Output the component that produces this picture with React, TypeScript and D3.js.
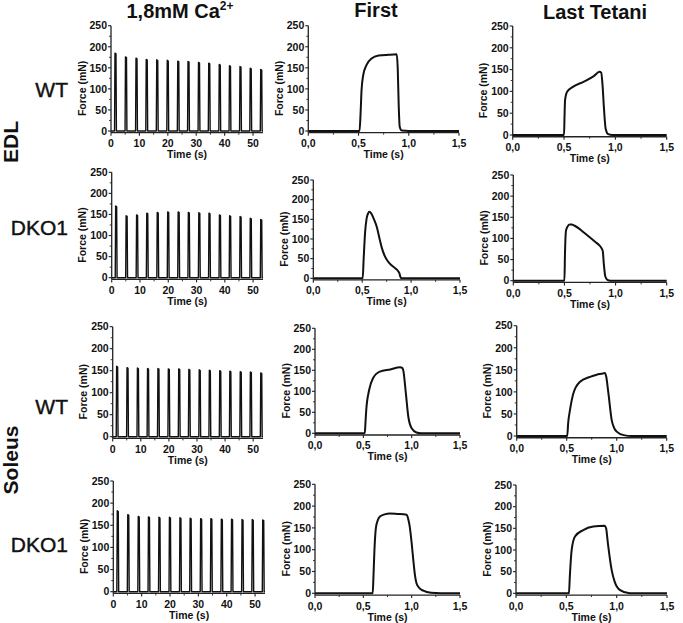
import React from "react";
import * as d3 from "d3";

// ---------------- data ----------------
const columnTitles = ["1,8mM Ca", "First", "Last Tetani"];
const titleSup = "2+";
const groupLabels = ["EDL", "Soleus"];
const rowLabels = ["WT", "DKO1", "WT", "DKO1"];
const yLabel = "Force (mN)";
const xLabel = "Time (s)";
const forceTicks = [0, 50, 100, 150, 200, 250];
const forceMinorTicks = [25, 75, 125, 175, 225];
const trainTimeTicks = [0, 10, 20, 30, 40, 50];
const trainMinorTicks = [5, 15, 25, 35, 45];
const tetanusTimeTicks = [0, 0.5, 1.0, 1.5];
const tetanusMinorTicks = [0.25, 0.75, 1.25];

// 1,8 mM Ca2+ trains: time of each tetanus (s) and its peak force (mN)
const spikeTimes = [1.4, 5.1, 8.8, 12.4, 16.1, 19.8, 23.5, 27.1, 30.8, 34.4, 38.1, 41.7, 45.4, 49.0, 52.7];
const edlWtTrain = [185, 176, 173, 170, 169, 168, 166, 165, 163, 161, 158, 155, 153, 149, 146];
const edlDkoTrain = [170, 147, 149, 153, 155, 156, 156, 155, 154, 153, 149, 147, 145, 141, 138];
const solWtTrain = [160, 157, 156, 155, 155, 154, 154, 153, 152, 151, 150, 149, 148, 147, 145];
const solDkoTrain = [183, 174, 170, 169, 168, 168, 167, 166, 165, 165, 164, 164, 163, 163, 162];

// single tetani: [time (s), force (mN)]
const edlWtFirst: [number, number][] = [
  [0, 0], [0.51, 0], [0.52, 40], [0.53, 97], [0.547, 133], [0.58, 157], [0.63, 172], [0.7, 179],
  [0.8, 181], [0.88, 182], [0.89, 150], [0.9, 60], [0.91, 10], [0.93, 1], [1.0, 0], [1.5, 0],
];
const edlWtLast: [number, number][] = [
  [0, 0], [0.5, 0], [0.505, 45], [0.51, 80], [0.53, 99], [0.59, 111], [0.69, 122], [0.79, 135],
  [0.845, 145], [0.862, 143], [0.874, 118], [0.89, 57], [0.905, 15], [0.93, 2], [0.97, 0], [1.5, 0],
];
const edlDkoFirst: [number, number][] = [
  [0, 0], [0.505, 0], [0.515, 50], [0.53, 118], [0.545, 152], [0.56, 165], [0.575, 169], [0.59, 166],
  [0.62, 150], [0.65, 130], [0.68, 98], [0.7, 78], [0.73, 57], [0.76, 44], [0.8, 33], [0.84, 25],
  [0.865, 19], [0.88, 13], [0.89, 4], [0.9, 0], [1.5, 0],
];
const edlDkoLast: [number, number][] = [
  [0, 0], [0.5, 0], [0.505, 60], [0.515, 118], [0.53, 128], [0.55, 133], [0.57, 133], [0.6, 130],
  [0.65, 122], [0.7, 112], [0.75, 102], [0.8, 92], [0.84, 84], [0.86, 78], [0.875, 70], [0.885, 40],
  [0.9, 10], [0.92, 2], [0.95, 0], [1.5, 0],
];
const solWtFirst: [number, number][] = [
  [0, 0], [0.515, 0], [0.522, 25], [0.53, 55], [0.56, 103], [0.6, 131], [0.67, 147], [0.78, 152],
  [0.88, 157], [0.9, 156], [0.913, 150], [0.94, 95], [0.965, 40], [1.0, 12], [1.05, 2], [1.1, 0], [1.5, 0],
];
const solWtLast: [number, number][] = [
  [0, 0], [0.505, 0], [0.515, 30], [0.533, 59], [0.567, 97], [0.633, 123], [0.733, 134], [0.8, 139],
  [0.867, 142], [0.88, 143], [0.895, 135], [0.917, 97], [0.95, 36], [0.975, 18], [1.0, 10], [1.07, 2],
  [1.15, 0], [1.5, 0],
];
const solDkoFirst: [number, number][] = [
  [0, 0], [0.597, 0], [0.605, 40], [0.615, 100], [0.63, 150], [0.65, 168], [0.672, 176], [0.72, 181],
  [0.776, 183], [0.85, 182], [0.948, 180], [0.965, 170], [0.98, 153], [1.0, 115], [1.017, 76],
  [1.035, 40], [1.05, 23], [1.08, 12], [1.12, 6], [1.2, 1], [1.3, 0], [1.5, 0],
];
const solDkoLast: [number, number][] = [
  [0, 0], [0.526, 0], [0.535, 40], [0.553, 100], [0.586, 131], [0.668, 146], [0.768, 154], [0.88, 156],
  [0.895, 150], [0.913, 115], [0.95, 54], [0.98, 27], [1.03, 8], [1.13, 0], [1.5, 0],
];

const trains = [edlWtTrain, edlDkoTrain, solWtTrain, solDkoTrain];
const firsts = [edlWtFirst, edlDkoFirst, solWtFirst, solDkoFirst];
const lasts = [edlWtLast, edlDkoLast, solWtLast, solDkoLast];

// ---------------- layout ----------------
type Box = { left: number; right: number; top: number; zero: number };
const W = 683;
const H = 623;
const FONT = "'Liberation Sans', Arial, Helvetica, sans-serif";
const Y_MIN = -4;
const TRAIN_MAX = 53.5;

const panelBoxes: Box[][] = [
  [
    { left: 111, right: 263, top: 25.7, zero: 131 },
    { left: 308.3, right: 459, top: 25.7, zero: 131 },
    { left: 512.7, right: 666.7, top: 26, zero: 135 },
  ],
  [
    { left: 111.7, right: 263, top: 172.3, zero: 277.7 },
    { left: 313.3, right: 460, top: 180, zero: 278.3 },
    { left: 513.3, right: 666.7, top: 175, zero: 280.7 },
  ],
  [
    { left: 112.7, right: 263, top: 326.7, zero: 436.7 },
    { left: 315, right: 460, top: 328.3, zero: 433.3 },
    { left: 516.7, right: 666.7, top: 325.7, zero: 436 },
  ],
  [
    { left: 113.3, right: 265, top: 481, zero: 591.7 },
    { left: 315, right: 460, top: 484.3, zero: 593.3 },
    { left: 516, right: 667, top: 485, zero: 593.3 },
  ],
];
const rowLabelBaselines = [97, 235, 414, 552];
const groupLabelCenters = [142, 460];
const titleCenters = [180, 376, 595];
const titleBaselines = [17.5, 17, 18.5];

const commaFmt = (v: number) => d3.format(".1f")(v).replace(".", ",");

type PanelProps = {
  box: Box;
  kind: "train" | "tetanus";
  peaks?: number[];
  curve?: [number, number][];
};

function Panel({ box, kind, peaks, curve }: PanelProps) {
  const isTrain = kind === "train";
  const x = d3
    .scaleLinear()
    .domain(isTrain ? [0, TRAIN_MAX] : [0, 1.5])
    .range([box.left, box.right]);
  const y = d3.scaleLinear().domain([0, 250]).range([box.zero, box.top]);
  const axisY = y(Y_MIN);

  const majorX = isTrain ? trainTimeTicks : tetanusTimeTicks;
  const minorX = isTrain ? trainMinorTicks : tetanusMinorTicks;
  const fmtX = isTrain ? (v: number) => String(v) : commaFmt;

  let pts: [number, number][] = [];
  if (isTrain && peaks) {
    pts.push([0, 0]);
    spikeTimes.forEach((t, i) => {
      const p = peaks[i];
      pts.push([t - 0.15, 0], [t, p], [t + 0.35, p * 0.99], [t + 0.5, 0]);
    });
    pts.push([TRAIN_MAX, 0]);
  } else if (curve) {
    pts = curve;
  }
  const line = d3
    .line<[number, number]>()
    .x((d) => x(d[0]))
    .y((d) => y(d[1]))
    .curve(isTrain ? d3.curveLinear : d3.curveMonotoneX);

  const midY = (box.top + box.zero) / 2 + 10;

  return (
    <g>
      <path
        d={line(pts) || ""}
        fill="none"
        stroke="#111"
        strokeWidth={isTrain ? 1.4 : 2}
        strokeLinejoin="round"
      />
      <line x1={box.left} x2={box.left} y1={axisY} y2={box.top} stroke="#222" strokeWidth={1.3} />
      {forceTicks.map((v) => (
        <g key={"yt" + v}>
          <line x1={box.left - 3} x2={box.left} y1={y(v)} y2={y(v)} stroke="#222" strokeWidth={1.1} />
          <text
            x={box.left - 4}
            y={y(v)}
            dy="0.36em"
            textAnchor="end"
            fontSize={10.5}
            fontWeight="bold"
            fontFamily={FONT}
            fill="#111"
          >
            {v}
          </text>
        </g>
      ))}
      {forceMinorTicks.map((v) => (
        <line key={"ym" + v} x1={box.left - 2} x2={box.left} y1={y(v)} y2={y(v)} stroke="#222" strokeWidth={0.9} />
      ))}
      <line x1={box.left} x2={box.right} y1={axisY} y2={axisY} stroke="#222" strokeWidth={1.3} />
      {majorX.map((v) => (
        <g key={"xt" + v}>
          <line x1={x(v)} x2={x(v)} y1={axisY} y2={axisY + 3} stroke="#222" strokeWidth={1.1} />
          <text
            x={x(v)}
            y={axisY + 14.5}
            textAnchor="middle"
            fontSize={10.5}
            fontWeight="bold"
            fontFamily={FONT}
            fill="#111"
          >
            {fmtX(v)}
          </text>
        </g>
      ))}
      {minorX.map((v) => (
        <line key={"xm" + v} x1={x(v)} x2={x(v)} y1={axisY} y2={axisY + 2} stroke="#222" strokeWidth={0.9} />
      ))}
      <text
        x={(box.left + box.right) / 2}
        y={axisY + 25.5}
        textAnchor="middle"
        fontSize={10.5}
        fontWeight="bold"
        fontFamily={FONT}
        fill="#111"
      >
        {xLabel}
      </text>
      <text
        transform={`translate(${box.left - 25.5},${midY}) rotate(-90)`}
        textAnchor="middle"
        fontSize={10.5}
        fontWeight="bold"
        fontFamily={FONT}
        fill="#111"
      >
        {yLabel}
      </text>
    </g>
  );
}

export default function App() {
  return (
    <svg
      width={W}
      height={H}
      viewBox={`0 0 ${W} ${H}`}
      style={{ position: "absolute", left: 0, top: 0, background: "#fff" }}
    >
      <rect x={0} y={0} width={W} height={H} fill="#fff" />
      {columnTitles.map((t, i) => (
        <text
          key={t}
          x={titleCenters[i]}
          y={titleBaselines[i]}
          textAnchor="middle"
          fontSize={20}
          fontWeight="bold"
          fontFamily={FONT}
          fill="#111"
        >
          {t}
          {i === 0 && (
            <tspan dy={-8} fontSize={12}>
              {titleSup}
            </tspan>
          )}
        </text>
      ))}
      {groupLabels.map((g, i) => (
        <text
          key={g}
          transform={`translate(18,${groupLabelCenters[i]}) rotate(-90)`}
          textAnchor="middle"
          fontSize={21}
          fontWeight="bold"
          fontFamily={FONT}
          fill="#111"
        >
          {g}
        </text>
      ))}
      {rowLabels.map((r, i) => (
        <text
          key={"r" + i}
          x={68}
          y={rowLabelBaselines[i]}
          textAnchor="end"
          fontSize={21}
          fontFamily={FONT}
          fill="#111"
          stroke="#111"
          strokeWidth={0.4}
        >
          {r}
        </text>
      ))}
      {panelBoxes.map((row, ri) => (
        <g key={"row" + ri}>
          <Panel box={row[0]} kind="train" peaks={trains[ri]} />
          <Panel box={row[1]} kind="tetanus" curve={firsts[ri]} />
          <Panel box={row[2]} kind="tetanus" curve={lasts[ri]} />
        </g>
      ))}
    </svg>
  );
}
